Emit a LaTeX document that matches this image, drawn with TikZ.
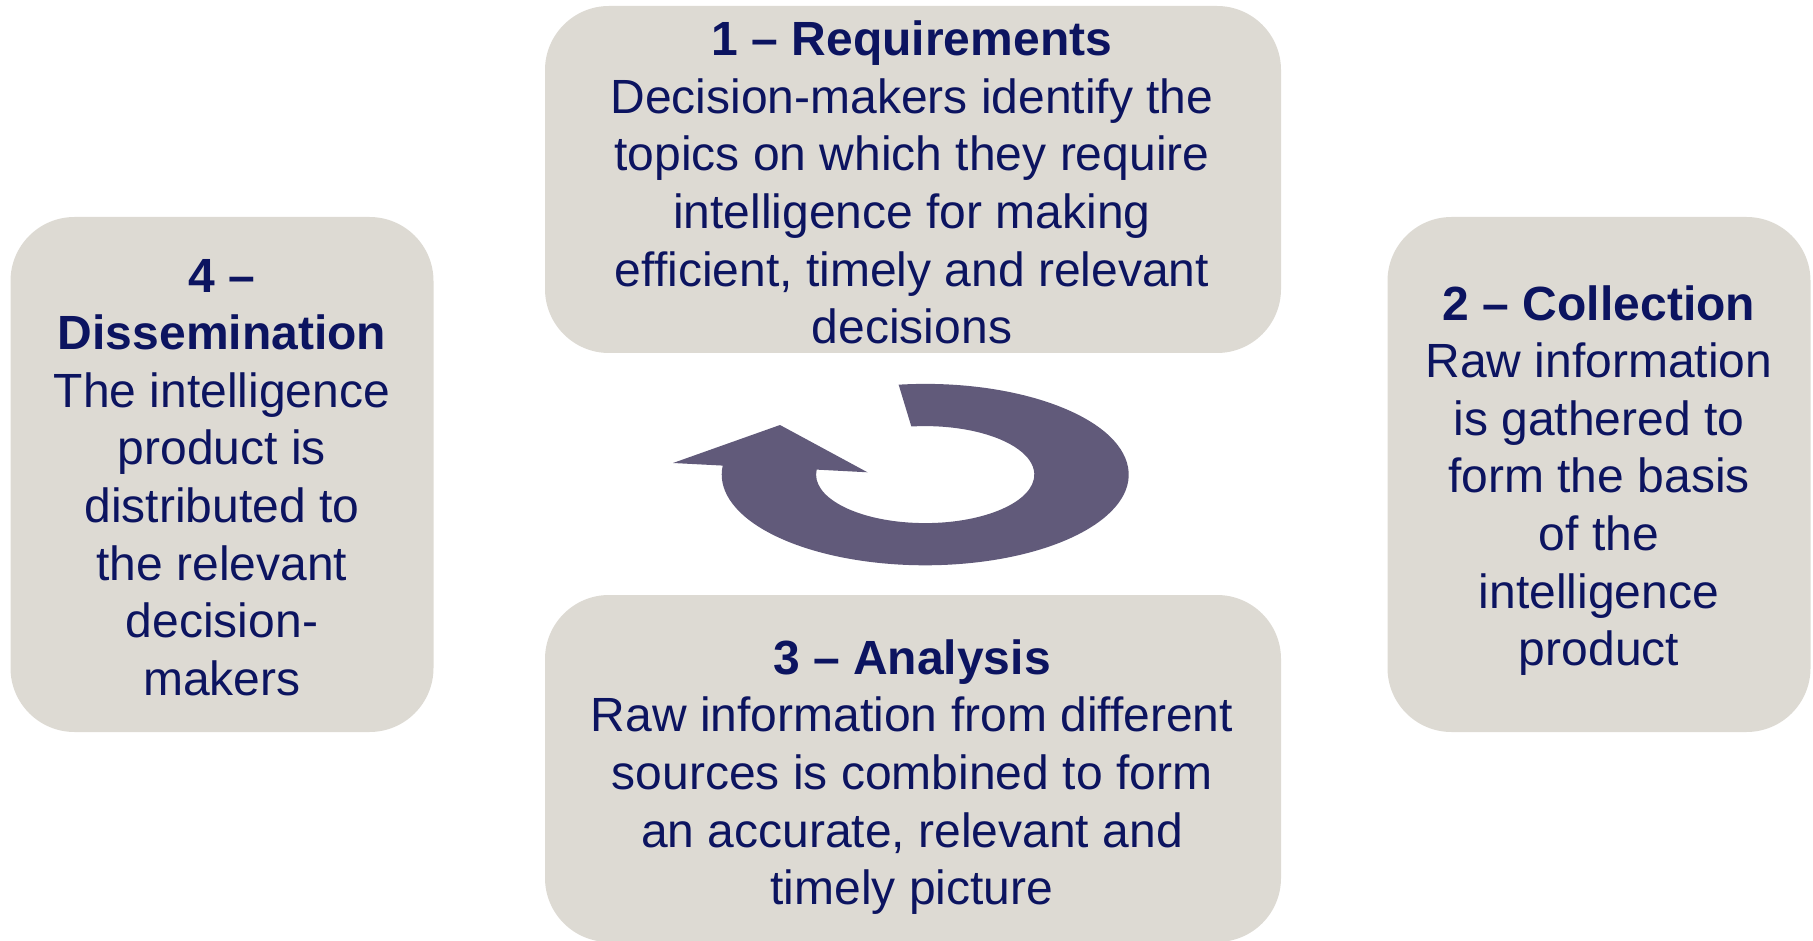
\documentclass[tikz,border=0pt]{standalone}
\usepackage{fontspec}
\setmainfont{Liberation Sans}
\definecolor{txtblue}{RGB}{12,20,96}
\definecolor{boxgray}{RGB}{221,218,211}
\definecolor{arrowpurple}{RGB}{97,90,122}
\begin{document}
\begin{tikzpicture}[x=1pt,y=1pt,
  stagebox/.style={fill=boxgray, draw=none, rounded corners=64pt, inner sep=0pt},
  stagetext/.style={text=txtblue, align=center, font=\fontsize{48}{57.6}\selectfont, inner sep=0pt}]
\useasboundingbox (0,0) rectangle (1813,-941);
\clip (0,0) rectangle (1813,-941);
% boxes
\node[stagebox, minimum width=736pt, minimum height=347pt] (b1) at (913,-179.5) {};
\node[stagebox, minimum width=423pt, minimum height=515pt] (b2) at (1599,-474.5) {};
\node[stagebox, minimum width=736pt, minimum height=347pt] (b3) at (913,-768.5) {};
\node[stagebox, minimum width=423pt, minimum height=515pt] (b4) at (222,-474.5) {};
% texts
\node[stagetext] (t1) at (912,-182.5) {\textbf{1 – Requirements}\\Decision-makers identify the\\topics on which they require\\intelligence for making\\efficient, timely and relevant\\decisions};
\node[stagetext] (t2) at (1599,-480.5) {\textbf{2 – Collection}\\Raw information\\is gathered to\\form the basis\\of the\\intelligence\\product};
\node[stagetext] (t3) at (912,-777) {\textbf{3 – Analysis}\\Raw information from different\\sources is combined to form\\an accurate, relevant and\\timely picture};
\node[stagetext] (t4) at (222,-477.5) {\textbf{4 –}\\\textbf{Dissemination}\\The intelligence\\product is\\distributed to\\the relevant\\decision-\\makers};
% circular arrow
\coordinate (c) at (925.2,-474.6);
\fill[arrowpurple] ([shift={(97.5:203.5pt and 90.7pt)}]c)
  arc[start angle=97.5, end angle=-185.7, x radius=203.5, y radius=90.7]
  -- (673,-463) -- (780,-425) -- (867.5,-472.3)
  -- ([shift={(-185.9:109.1pt and 48.5pt)}]c)
  arc[start angle=-185.9, end angle=97.3, x radius=109.1, y radius=48.5]
  -- cycle;
\end{tikzpicture}
\end{document}
